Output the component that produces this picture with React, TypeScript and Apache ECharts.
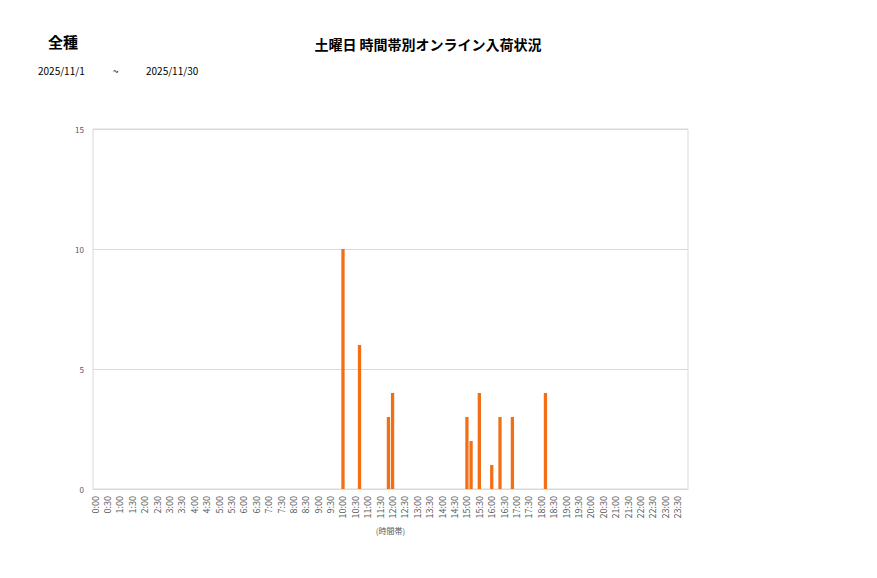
import React, { useEffect, useRef } from "react";
import * as echarts from "echarts";

const pageTitle = "全種";
const chartTitle = "土曜日 時間帯別オンライン入荷状況";
const dateFrom = "2025/11/1";
const dateSep = "~";
const dateTo = "2025/11/30";
const xAxisName = "(時間帯)";

const hours = Array.from({ length: 24 }, (_, h) => h);
const minuteSteps = ["00", "10", "20", "30", "40", "50"];
const categories: string[] = [];
hours.forEach((h) => minuteSteps.forEach((m) => categories.push(`${h}:${m}`)));

const arrivalTimes = ["10:00", "10:40", "11:50", "12:00", "15:00", "15:10", "15:30", "16:00", "16:20", "16:50", "18:10"];
const arrivalCounts = [10, 6, 3, 4, 3, 2, 4, 1, 3, 3, 4];

const yTicks = { min: 0, max: 15, interval: 5 };

export default function App() {
  const ref = useRef<HTMLDivElement>(null);
  useEffect(() => {
    if (!ref.current) return;
    const chart = echarts.init(ref.current, undefined, { renderer: "svg" });
    const values = categories.map((c) => {
      const i = arrivalTimes.indexOf(c);
      return i >= 0 ? arrivalCounts[i] : 0;
    });
    const font = "'Noto Sans CJK JP', 'Noto Sans', sans-serif";
    chart.setOption({
      animation: false,
      backgroundColor: "#ffffff",
      textStyle: { fontFamily: font },
      graphic: [
        {
          type: "text",
          left: 48,
          top: 34,
          style: { text: pageTitle, font: `bold 15px ${font}`, fill: "#000000" },
        },
        {
          type: "text",
          x: 428,
          y: 44,
          style: {
            text: chartTitle,
            font: `bold 14px ${font}`,
            fill: "#000000",
            textAlign: "center",
            textVerticalAlign: "middle",
          },
        },
        {
          type: "text",
          x: 38,
          y: 70,
          style: { text: dateFrom, font: `10px ${font}`, fill: "#000000", textVerticalAlign: "middle" },
        },
        {
          type: "text",
          x: 113,
          y: 70,
          style: { text: dateSep, font: `10px ${font}`, fill: "#000000", textVerticalAlign: "middle" },
        },
        {
          type: "text",
          x: 146,
          y: 70,
          style: { text: dateTo, font: `10px ${font}`, fill: "#000000", textVerticalAlign: "middle" },
        },
      ],
      grid: {
        left: 93,
        right: 189,
        top: 129,
        bottom: 89,
        show: true,
        borderColor: "#d9d9d9",
        borderWidth: 1,
        containLabel: false,
      },
      xAxis: {
        type: "category",
        data: categories,
        name: xAxisName,
        nameLocation: "middle",
        nameGap: 35,
        nameTextStyle: { color: "#595959", fontSize: 8, fontFamily: font },
        axisLine: { show: true, lineStyle: { color: "#d9d9d9" } },
        axisTick: { show: false },
        axisLabel: {
          interval: 2,
          rotate: 90,
          fontSize: 9,
          color: "#595959",
          margin: 7,
          fontFamily: font,
        },
        splitLine: { show: false },
      },
      yAxis: {
        type: "value",
        min: yTicks.min,
        max: yTicks.max,
        interval: yTicks.interval,
        axisLine: { show: false },
        axisTick: { show: false },
        axisLabel: { fontSize: 8, color: "#595959", margin: 9, fontFamily: font },
        splitLine: { show: true, lineStyle: { color: "#d9d9d9", width: 1 } },
      },
      series: [
        {
          type: "bar",
          data: values,
          barWidth: 3.3,
          itemStyle: { color: "#F26F16" },
        },
      ],
    });
    return () => chart.dispose();
  }, []);
  return (
    <div
      ref={ref}
      style={{ position: "absolute", left: 0, top: 0, width: 877, height: 578 }}
    />
  );
}
